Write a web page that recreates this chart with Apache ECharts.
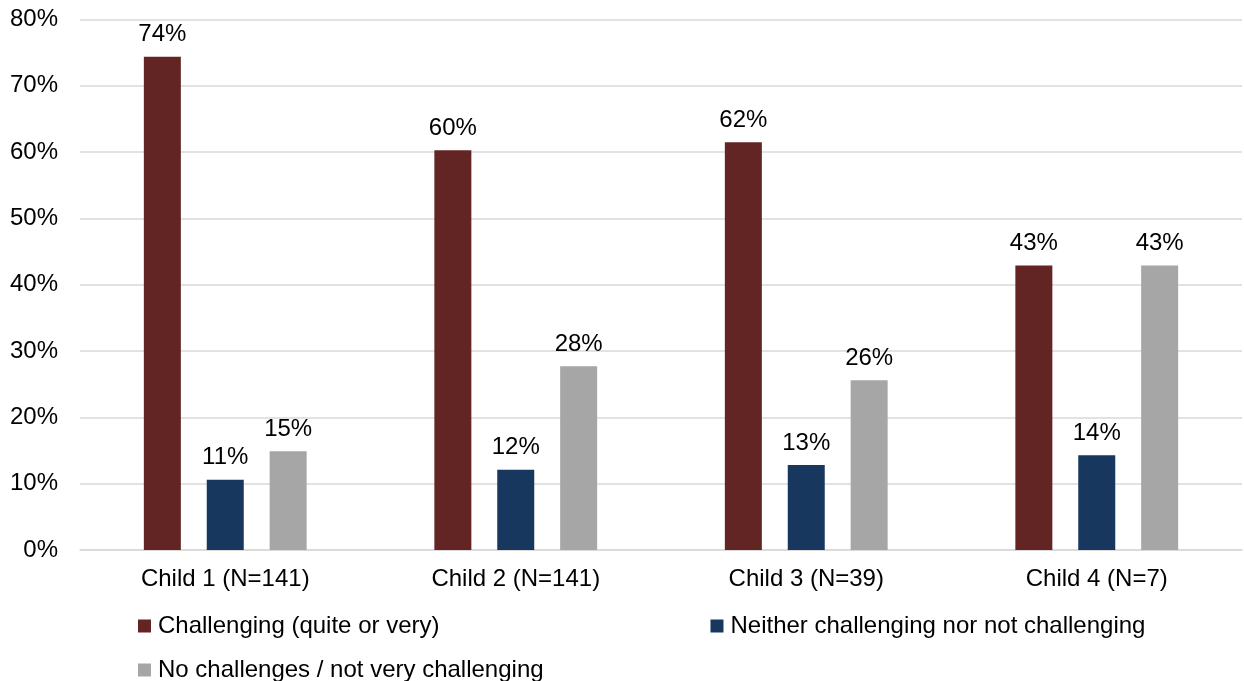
<!DOCTYPE html>
<html>
<head>
<meta charset="utf-8">
<style>
  html, body { margin: 0; padding: 0; background: #ffffff; }
  #chart { width: 1244px; height: 681px; }
</style>
<script src="https://cdn.jsdelivr.net/npm/echarts@6/dist/echarts.min.js"></script>
</head>
<body>
<div id="chart"></div>
<script>
// Survey response share by child, in percent
var categories = ['Child 1 (N=141)', 'Child 2 (N=141)', 'Child 3 (N=39)', 'Child 4 (N=7)'];
var seriesNames = [
  'Challenging (quite or very)',
  'Neither challenging nor not challenging',
  'No challenges / not very challenging'
];
var challenging = [74.4, 60.3, 61.5, 42.9];
var neither = [10.6, 12.1, 12.8, 14.3];
var noChallenges = [14.9, 27.7, 25.6, 42.9];
var yTicks = [0, 10, 20, 30, 40, 50, 60, 70, 80];

var colors = ['#632523', '#17375e', '#a6a6a6'];
var FONT = 'Liberation Sans, Arial, sans-serif';
var FS = 24;

function barSeries(name, values, color) {
  return {
    name: name,
    type: 'bar',
    data: values,
    barWidth: 37,
    barGap: '70%',
    itemStyle: { color: color },
    label: {
      show: true,
      position: 'top',
      distance: 10,
      color: '#000000',
      fontFamily: FONT,
      fontSize: FS,
      formatter: function (p) { return Math.round(p.value) + '%'; }
    }
  };
}

var legendText = { fontFamily: FONT, fontSize: FS, color: '#000000', padding: [0, 0, 0, 2] };

var chart = echarts.init(document.getElementById('chart'), null, { renderer: 'canvas' });
chart.setOption({
  animation: false,
  backgroundColor: '#ffffff',
  grid: { left: 80, right: 2, top: 19.5, bottom: 131, containLabel: false },
  legend: [
    {
      data: [seriesNames[0], seriesNames[1]],
      left: 133, top: 609,
      orient: 'horizontal',
      itemGap: 271,
      itemWidth: 13, itemHeight: 13,
      icon: 'rect',
      textStyle: legendText
    },
    {
      data: [seriesNames[2]],
      left: 133, top: 653,
      itemWidth: 13, itemHeight: 13,
      icon: 'rect',
      textStyle: legendText
    }
  ],
  xAxis: {
    type: 'category',
    data: categories,
    axisLine: { show: true, lineStyle: { color: '#d9d9d9', width: 1.5 } },
    axisTick: { show: false },
    axisLabel: { color: '#000000', fontFamily: FONT, fontSize: FS, margin: 17 }
  },
  yAxis: {
    type: 'value',
    min: yTicks[0],
    max: yTicks[yTicks.length - 1],
    interval: 10,
    axisLine: { show: false },
    axisTick: { show: false },
    splitLine: { lineStyle: { color: '#d9d9d9', width: 1.5 } },
    axisLabel: {
      color: '#000000', fontFamily: FONT, fontSize: FS, margin: 22,
      formatter: function (v) { return v + '%'; }
    }
  },
  series: [
    barSeries(seriesNames[0], challenging, colors[0]),
    barSeries(seriesNames[1], neither, colors[1]),
    barSeries(seriesNames[2], noChallenges, colors[2])
  ]
});
</script>
</body>
</html>
